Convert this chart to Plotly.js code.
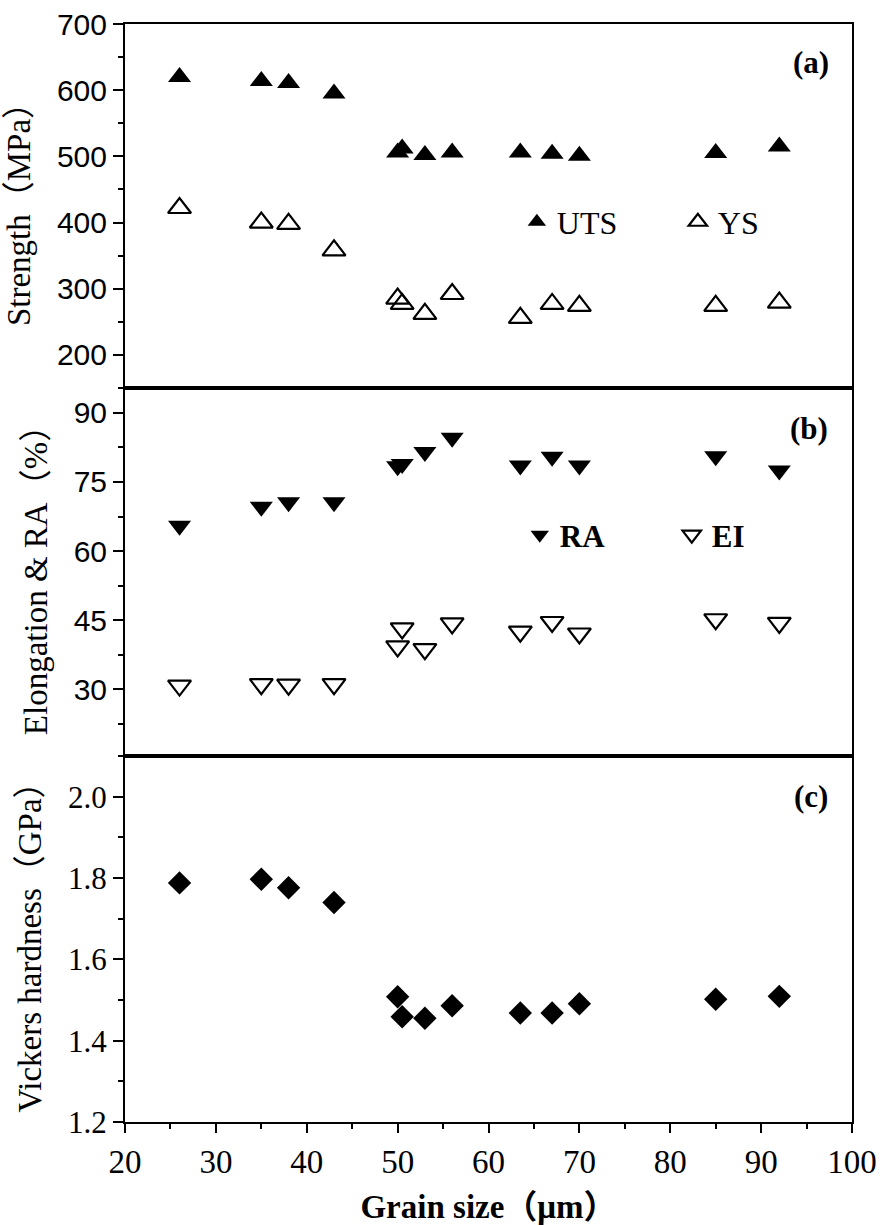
<!DOCTYPE html>
<html>
<head>
<meta charset="utf-8">
<script src="https://cdn.plot.ly/plotly-3.0.1.min.js"></script>
<style>html,body{margin:0;padding:0;background:#fff;}#chart{width:884px;height:1225px;}</style>
</head>
<body>
<div id="chart"></div>
<script>
// Grain size (µm)
const grainSize = [26, 35, 38, 43, 50, 50.5, 53, 56, 63.5, 67, 70, 85, 92];
// (a) Strength (MPa)
const uts = [620, 614, 611, 595, 506, 512, 502, 506, 506, 504, 501, 505, 515];
const ys  = [422, 400, 398, 358, 285, 277, 262, 292, 256, 277, 274, 274, 279];
// (b) Elongation & RA (%)
const ra  = [65.5, 69.6, 70.6, 70.6, 78.4, 78.9, 81.5, 84.6, 78.6, 80.5, 78.6, 80.6, 77.5];
const el  = [30.8, 31.1, 31.0, 31.1, 39.3, 43.2, 38.7, 44.3, 42.5, 44.6, 42.1, 45.2, 44.4];
// (c) Vickers hardness (GPa)
const hv  = [1.788, 1.797, 1.776, 1.740, 1.508, 1.459, 1.455, 1.486, 1.468, 1.468, 1.491, 1.502, 1.509];

const SERIF = 'Liberation Serif, Times New Roman, Noto Sans CJK SC, serif';
const SANS = 'Liberation Sans, Arial, sans-serif';

const traces = [
  {x: grainSize, y: uts, xaxis: 'x3', yaxis: 'y3', type: 'scatter', mode: 'markers', name: 'UTS', legend: 'legend',
   marker: {symbol: 'triangle-up', size: 20, color: '#000'}},
  {x: grainSize, y: ys, xaxis: 'x3', yaxis: 'y3', type: 'scatter', mode: 'markers', name: 'YS', legend: 'legend',
   marker: {symbol: 'triangle-up-open', size: 20, color: '#000', line: {width: 2.2, color: '#000'}}},
  {x: grainSize, y: ra, xaxis: 'x2', yaxis: 'y2', type: 'scatter', mode: 'markers', name: 'RA', legend: 'legend2',
   marker: {symbol: 'triangle-down', size: 20, color: '#000'}},
  {x: grainSize, y: el, xaxis: 'x2', yaxis: 'y2', type: 'scatter', mode: 'markers', name: 'EI', legend: 'legend2',
   marker: {symbol: 'triangle-down-open', size: 20, color: '#000', line: {width: 2.2, color: '#000'}}},
  {x: grainSize, y: hv, xaxis: 'x', yaxis: 'y', type: 'scatter', mode: 'markers', name: 'HV', showlegend: false,
   marker: {symbol: 'diamond', size: 18, color: '#000'}}
];

const axLine = {showline: true, linecolor: '#000', linewidth: 2, mirror: true, showgrid: false, zeroline: false};

const layout = {
  width: 884, height: 1225,
  margin: {l: 125, r: 32, t: 24, b: 103},
  paper_bgcolor: '#fff', plot_bgcolor: '#fff',
  xaxis: Object.assign({}, axLine, {
    anchor: 'y', domain: [0, 1], range: [20, 100], dtick: 10, tick0: 0,
    ticks: 'outside', ticklen: 9, tickwidth: 2, tickcolor: '#000',
    minor: {ticks: 'outside', ticklen: 5, tickwidth: 2, tickcolor: '#000', dtick: 5},
    tickfont: {family: SERIF, size: 33, color: '#000'},
    title: {text: 'Grain size（μm）', font: {family: SERIF, size: 33, color: '#000', weight: 'bold'}, standoff: 16}
  }),
  xaxis2: Object.assign({}, axLine, {anchor: 'y2', matches: 'x', showticklabels: false, ticks: ''}),
  xaxis3: Object.assign({}, axLine, {anchor: 'y3', matches: 'x', showticklabels: false, ticks: ''}),
  yaxis: Object.assign({}, axLine, {
    anchor: 'x', domain: [0, 0.3333], range: [1.2, 2.1], dtick: 0.2, tick0: 0, tickformat: '.1f',
    ticks: 'outside', ticklen: 10, tickwidth: 2, tickcolor: '#000',
    minor: {ticks: 'outside', ticklen: 5, tickwidth: 2, tickcolor: '#000', dtick: 0.1},
    tickfont: {family: SERIF, size: 31, color: '#000'},
    title: {text: 'Vickers hardness（GPa）', font: {family: SERIF, size: 33, color: '#000'}, standoff: 16}
  }),
  yaxis2: Object.assign({}, axLine, {
    anchor: 'x2', domain: [0.3333, 0.6685], range: [15.5, 95.4], dtick: 15, tick0: 0,
    ticks: 'outside', ticklen: 10, tickwidth: 2, tickcolor: '#000',
    minor: {ticks: 'outside', ticklen: 5, tickwidth: 2, tickcolor: '#000', dtick: 7.5},
    tickfont: {family: SANS, size: 30, color: '#000'},
    title: {text: 'Elongation & RA（%）', font: {family: SERIF, size: 33, color: '#000'}, standoff: 16}
  }),
  yaxis3: Object.assign({}, axLine, {
    anchor: 'x3', domain: [0.6685, 1], range: [150, 700], dtick: 100, tick0: 0,
    ticks: 'outside', ticklen: 10, tickwidth: 2, tickcolor: '#000',
    minor: {ticks: 'outside', ticklen: 5, tickwidth: 2, tickcolor: '#000', dtick: 50},
    tickfont: {family: SANS, size: 30, color: '#000'},
    title: {text: 'Strength（MPa）', font: {family: SERIF, size: 33, color: '#000'}, standoff: 16}
  }),
  legend: {
    x: 0.539, y: 0.8197, xanchor: 'left', yanchor: 'middle', orientation: 'h',
    entrywidth: 116, entrywidthmode: 'pixels', bgcolor: 'rgba(0,0,0,0)', borderwidth: 0,
    font: {family: SERIF, size: 32, color: '#000'}, itemsizing: 'trace'
  },
  legend2: {
    x: 0.543, y: 0.5346, xanchor: 'left', yanchor: 'middle', orientation: 'h',
    entrywidth: 107, entrywidthmode: 'pixels', bgcolor: 'rgba(0,0,0,0)', borderwidth: 0,
    font: {family: SERIF, size: 31, color: '#000', weight: 'bold'}, itemsizing: 'trace'
  },
  annotations: [
    {text: '(a)', xref: 'paper', yref: 'paper', x: 0.944, y: 0.965, xanchor: 'center', yanchor: 'middle', showarrow: false,
     font: {family: SERIF, size: 31, color: '#000', weight: 'bold'}},
    {text: '(b)', xref: 'paper', yref: 'paper', x: 0.941, y: 0.632, xanchor: 'center', yanchor: 'middle', showarrow: false,
     font: {family: SERIF, size: 31, color: '#000', weight: 'bold'}},
    {text: '(c)', xref: 'paper', yref: 'paper', x: 0.944, y: 0.296, xanchor: 'center', yanchor: 'middle', showarrow: false,
     font: {family: SERIF, size: 31, color: '#000', weight: 'bold'}}
  ],
  showlegend: true
};

Plotly.newPlot('chart', traces, layout, {staticPlot: true, displayModeBar: false});
</script>
</body>
</html>
